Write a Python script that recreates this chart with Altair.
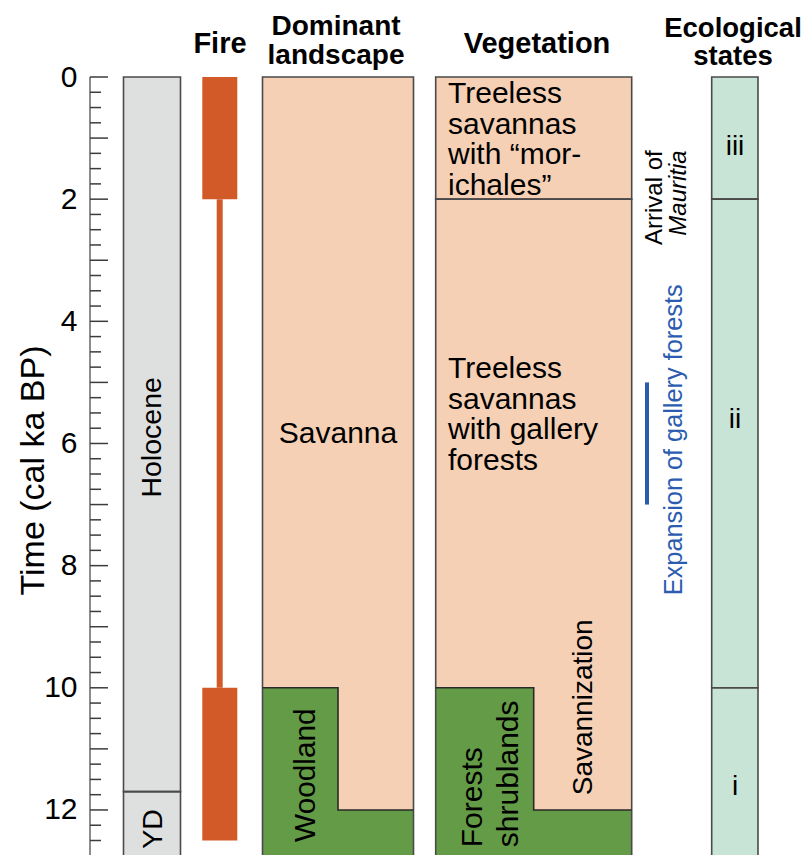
import altair as alt
import pandas as pd

# ---------------- data (time in cal ka BP) ----------------
AXIS_LABELS = [0, 2, 4, 6, 8, 10, 12]
MAJOR_TICKS = list(range(0, 14))
MINOR_TICKS = [q / 4 for q in range(1, 52) if q % 4]
TIME_MAX = 13.0          # the record continues below the visible window

EPOCH_NAMES = ["Holocene", "YD", ""]
EPOCH_START = [0.0, 11.7, 12.75]
EPOCH_END = [11.7, 12.75, 13.0]

FIRE_START = [0.0, 2.0, 10.0]
FIRE_END = [2.0, 10.0, 12.5]
FIRE_LEVEL = ["high", "low", "high"]

LANDSCAPE_NAMES = ["Savanna", "Woodland"]
LANDSCAPE_END = 12.75
WOODLAND_ONSET = 10.0
WOODLAND_FULL = 12.0

VEGETATION_NAMES = ["Treeless\nsavannas\nwith \u201cmor-\nichales\u201d",
                    "Treeless\nsavannas\nwith gallery\nforests",
                    "Forests\nshrublands",
                    "Savannization"]
VEGETATION_BOUNDS = [0.0, 2.0, 12.75]
FOREST_ONSET = 10.0
FOREST_FULL = 12.0

STATE_NAMES = ["iii", "ii", "i"]
STATE_START = [0.0, 2.0, 10.0]
STATE_END = [2.0, 10.0, 13.0]

GALLERY_LABEL = "Expansion of gallery forests"
GALLERY_SPAN = [5.0, 7.0]
MAURITIA_LABEL = ["Arrival of", "Mauritia"]

HEADERS = ["Fire", "Dominant\nlandscape", "Vegetation", "Ecological\nstates"]
AXIS_TITLE = "Time (cal ka BP)"

# ---------------- layout (x in figure pixel coordinates) ----------------
FONT = "Liberation Sans"
PX_PER_KA = 61.08
PAD_LEFT, PAD_TOP = 82, 69
PLOT_W = 794 - PAD_LEFT
PLOT_H = 778
Y_VISIBLE = PLOT_H / PX_PER_KA
XMIN = 90
EPOCH_X = (123.5, 180.5)
FIRE_WIDE = (202.3, 237.3)
FIRE_THIN = (216.7, 222.7)
LAND_X = (262.5, 413.5, 338.0)
VEG_X = (435.7, 631.7, 533.7)
STATE_X = (711.7, 758.0)
GALLERY_X = 647
TICK_LEN = {"major": 18, "minor": 11}
HEADER_X = [220, 336, 537, 733]
HEADER_Y = [-23.7, -42.0, -24.0, -40.3]
HEADER_FS = [29, 28, 29, 27.5]

GREY = "#dedfdf"
PEACH = "#f5d0b4"
GREEN = "#639b46"
MINT = "#c7e4d6"
FIRE = "#d25a28"
BLUE = "#2b5cb0"
EDGE = "#4a4a4a"

XS = alt.Scale(domain=[XMIN, XMIN + PLOT_W], nice=False, zero=False)
YS = alt.Scale(domain=[0, Y_VISIBLE], reverse=True, nice=False, zero=False)
YAX = alt.Axis(values=AXIS_LABELS, ticks=False, tickSize=0, domain=False, grid=False,
               labelFont=FONT, labelFontSize=30, labelColor="black", labelPadding=13,
               labelAlign="right", labelBaseline="middle", labelFlush=False,
               labelOverlap=False, format="d",
               title=AXIS_TITLE, titleFont=FONT, titleFontSize=34, titleFontWeight="normal",
               titleColor="black", titleAngle=270, titleBaseline="alphabetic",
               titleAlign="center", titleX=-47, titleY=393)


def X(f):
    return alt.X(f"{f}:Q", scale=XS, axis=None)


def X2(f):
    return alt.X2(f"{f}:Q")


def Y(f):
    return alt.Y(f"{f}:Q", scale=YS, axis=YAX)


def Y2(f):
    return alt.Y2(f"{f}:Q")


# ---- filled blocks ----
fills = []
for s, e in zip(EPOCH_START, EPOCH_END):
    fills.append(dict(x=EPOCH_X[0], x2=EPOCH_X[1], t=s, t2=e, fill=GREY))
for s, e, lev in zip(FIRE_START, FIRE_END, FIRE_LEVEL):
    xx = FIRE_WIDE if lev == "high" else FIRE_THIN
    fills.append(dict(x=xx[0], x2=xx[1], t=s, t2=e, fill=FIRE))
fills.append(dict(x=LAND_X[0], x2=LAND_X[1], t=0, t2=LANDSCAPE_END, fill=PEACH))
fills.append(dict(x=LAND_X[0], x2=LAND_X[2], t=WOODLAND_ONSET, t2=WOODLAND_FULL, fill=GREEN))
fills.append(dict(x=LAND_X[0], x2=LAND_X[1], t=WOODLAND_FULL, t2=LANDSCAPE_END, fill=GREEN))
fills.append(dict(x=LAND_X[0], x2=LAND_X[1], t=LANDSCAPE_END, t2=TIME_MAX, fill=GREY))
fills.append(dict(x=VEG_X[0], x2=VEG_X[1], t=VEGETATION_BOUNDS[0], t2=VEGETATION_BOUNDS[-1], fill=PEACH))
fills.append(dict(x=VEG_X[0], x2=VEG_X[2], t=FOREST_ONSET, t2=FOREST_FULL, fill=GREEN))
fills.append(dict(x=VEG_X[0], x2=VEG_X[1], t=FOREST_FULL, t2=VEGETATION_BOUNDS[-1], fill=GREEN))
for s, e in zip(STATE_START, STATE_END):
    fills.append(dict(x=STATE_X[0], x2=STATE_X[1], t=s, t2=e, fill=MINT))
fill_df = pd.DataFrame(fills)

fill_layer = alt.Chart(fill_df).mark_rect(strokeWidth=0).encode(
    x=X("x"), x2=X2("x2"), y=Y("t"), y2=Y2("t2"),
    fill=alt.Fill("fill:N", scale=None))

# ---- outlines ----
outl = []
for s, e in zip(EPOCH_START, EPOCH_END):
    outl.append(dict(x=EPOCH_X[0], x2=EPOCH_X[1], t=s, t2=e))
outl.append(dict(x=LAND_X[0], x2=LAND_X[1], t=0, t2=LANDSCAPE_END))
outl.append(dict(x=LAND_X[0], x2=LAND_X[1], t=LANDSCAPE_END, t2=TIME_MAX))
for s, e in zip(VEGETATION_BOUNDS[:-1], VEGETATION_BOUNDS[1:]):
    outl.append(dict(x=VEG_X[0], x2=VEG_X[1], t=s, t2=e))
for s, e in zip(STATE_START, STATE_END):
    outl.append(dict(x=STATE_X[0], x2=STATE_X[1], t=s, t2=e))
outl_df = pd.DataFrame(outl)
outline_layer = alt.Chart(outl_df).mark_rect(fillOpacity=0, stroke=EDGE, strokeWidth=1.6).encode(
    x=X("x"), x2=X2("x2"), y=Y("t"), y2=Y2("t2"))

# ---- L-shaped boundaries (woodland / forests onset) ----
lpts = []
for name, (x0, x1, xs), on, full in [("land", LAND_X, WOODLAND_ONSET, WOODLAND_FULL),
                                     ("veg", VEG_X, FOREST_ONSET, FOREST_FULL)]:
    for k, (xx, tt) in enumerate([(x0, on), (xs, on), (xs, full), (x1, full)]):
        lpts.append(dict(path=name, k=k, x=xx, t=tt))
l_layer = alt.Chart(pd.DataFrame(lpts)).mark_line(color="#2a2a2a", strokeWidth=1.6).encode(
    x=X("x"), y=Y("t"), detail="path:N", order="k:Q")

# ---- gallery forest bar ----
gal_layer = alt.Chart(pd.DataFrame([dict(x=GALLERY_X, t=GALLERY_SPAN[0], t2=GALLERY_SPAN[1])])).mark_rule(
    color=BLUE, strokeWidth=4).encode(x=X("x"), y=Y("t"), y2=Y2("t2"))

# ---- axis line and inward ticks ----
ticks = ([dict(x=XMIN, x2=XMIN + TICK_LEN["major"], t=v) for v in MAJOR_TICKS] +
         [dict(x=XMIN, x2=XMIN + TICK_LEN["minor"], t=v) for v in MINOR_TICKS])
tick_layer = alt.Chart(pd.DataFrame(ticks)).mark_rule(color="#3c3c3c", strokeWidth=1.5).encode(
    x=X("x"), x2=X2("x2"), y=Y("t"))
axis_line = alt.Chart(pd.DataFrame([dict(x=XMIN, t=0, t2=TIME_MAX)])).mark_rule(
    color="#8c8c8c", strokeWidth=2).encode(x=X("x"), y=Y("t"), y2=Y2("t2"))


# ---- texts ----
def text_layer(rows, **mark):
    props = dict(font=FONT, lineBreak="\n", color="black")
    props.update(mark)
    return alt.Chart(pd.DataFrame(rows)).mark_text(**props).encode(
        x=X("x"), y=Y("t"), text="label:N", size=alt.Size("fs:Q", scale=None))


rot_center = text_layer([
    dict(label=EPOCH_NAMES[0], x=160.7, t=5.90, fs=28.5),
    dict(label=EPOCH_NAMES[1], x=161.5, t=12.31, fs=28.5),
    dict(label=LANDSCAPE_NAMES[1], x=315.0, t=11.43, fs=29.8),
    dict(label=VEGETATION_NAMES[3], x=592.0, t=10.32, fs=28),
], angle=270, align="center", baseline="alphabetic")

forest_txt = text_layer([dict(label=VEGETATION_NAMES[2], x=481.7, t=12.61, fs=30)],
                        angle=270, align="left", baseline="alphabetic", lineHeight=36)

savanna_txt = text_layer([dict(label=LANDSCAPE_NAMES[0], x=338.0, t=5.99, fs=30)],
                         align="center", baseline="alphabetic")

veg_txt = text_layer([
    dict(label=VEGETATION_NAMES[0], x=448.0, t=0.43, fs=30),
    dict(label=VEGETATION_NAMES[1], x=448.0, t=4.93, fs=30),
], align="left", baseline="alphabetic", lineHeight=30.6)

arrival_txt = text_layer([dict(label=MAURITIA_LABEL[0], x=661.7, t=1.2, fs=24)],
                         angle=270, align="right", baseline="alphabetic")
mauritia_txt = text_layer([dict(label=MAURITIA_LABEL[1], x=686.0, t=1.2, fs=24)],
                          angle=270, align="right", baseline="alphabetic", fontStyle="italic")
gallery_txt = text_layer([dict(label=GALLERY_LABEL, x=681.7, t=5.94, fs=25.3)],
                         angle=270, align="center", baseline="alphabetic", color=BLUE)

state_txt = text_layer([
    dict(label=STATE_NAMES[0], x=735.0, t=1.28, fs=28),
    dict(label=STATE_NAMES[1], x=735.0, t=5.75, fs=28),
    dict(label=STATE_NAMES[2], x=735.0, t=11.76, fs=28),
], align="center", baseline="alphabetic")

header_layers = []
for label, hx, hy, hfs in zip(HEADERS, HEADER_X, HEADER_Y, HEADER_FS):
    header_layers.append(
        alt.Chart(pd.DataFrame([dict(label=label, x=hx)])).mark_text(
            font=FONT, fontWeight="bold", fontSize=hfs, lineBreak="\n", lineHeight=28.6,
            align="center", baseline="alphabetic", color="black").encode(
            x=X("x"), y=alt.value(hy), text="label:N"))

chart = alt.layer(
    fill_layer, outline_layer, l_layer, gal_layer, axis_line, tick_layer,
    rot_center, forest_txt, savanna_txt, veg_txt, arrival_txt, mauritia_txt,
    gallery_txt, state_txt, *header_layers
).properties(
    width=PLOT_W, height=PLOT_H,
    padding={"left": PAD_LEFT, "top": PAD_TOP, "right": 0, "bottom": 0},
    autosize=alt.AutoSizeParams(type="none"),
    background="white",
).configure_view(stroke=None)

chart.save("out.html", embed_options={"renderer": "svg", "actions": False})
